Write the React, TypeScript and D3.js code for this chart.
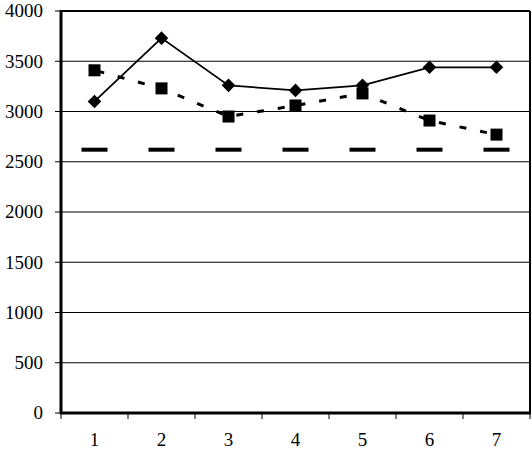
import React from "react";
import * as d3 from "d3";

const categories = ["1", "2", "3", "4", "5", "6", "7"];
const seriesA = [3100, 3730, 3260, 3210, 3260, 3440, 3440];
const seriesB = [3410, 3230, 2950, 3060, 3180, 2910, 2770];
const seriesC = [2620, 2620, 2620, 2620, 2620, 2620, 2620];
const yTicks = [0, 500, 1000, 1500, 2000, 2500, 3000, 3500, 4000];

const W = 532;
const H = 450;
const left = 61;
const right = 530;
const top = 11;
const bottom = 413;
const FONT = "Liberation Serif, Times New Roman, serif";

export default function App() {
  const x = d3.scaleBand<string>().domain(categories).range([left, right]).padding(0);
  const y = d3.scaleLinear().domain([0, 4000]).range([bottom, top]);
  const cx = (c: string) => (x(c) as number) + x.bandwidth() / 2;

  const line = d3
    .line<number>()
    .x((_, i) => cx(categories[i]))
    .y((d) => y(d));

  const diamond = d3.symbol(d3.symbolSquare, 92)();
  const textStyle = { fontFamily: FONT, fontSize: 19 } as React.CSSProperties;

  return (
    <svg
      width={W}
      height={H}
      style={{ position: "absolute", left: 0, top: 0, background: "#fff" }}
    >
      <rect x={0} y={0} width={W} height={H} fill="#fff" />
      {yTicks.map((t) => (
        <line key={"g" + t} x1={left} x2={right} y1={y(t)} y2={y(t)} stroke="#000" strokeWidth={1} />
      ))}
      {yTicks.map((t) => (
        <g key={"yt" + t}>
          <line x1={left - 6} x2={left} y1={y(t)} y2={y(t)} stroke="#000" strokeWidth={1} />
          <text x={43} y={y(t)} dy="0.33em" textAnchor="end" style={textStyle} fill="#000">
            {t}
          </text>
        </g>
      ))}
      {[...categories.map((c) => x(c) as number), right].map((v, i) => (
        <line key={"xt" + i} x1={v} x2={v} y1={bottom} y2={bottom + 6} stroke="#000" strokeWidth={1} />
      ))}
      {categories.map((c) => (
        <text key={"xl" + c} x={cx(c)} y={446} textAnchor="middle" style={textStyle} fill="#000">
          {c}
        </text>
      ))}
      <line x1={left} x2={right} y1={top} y2={top} stroke="#000" strokeWidth={2} />
      <line x1={right} x2={right} y1={top} y2={bottom} stroke="#000" strokeWidth={2} />
      <line x1={left} x2={left} y1={top - 1} y2={bottom + 1} stroke="#000" strokeWidth={3} />
      <line x1={left - 1} x2={right + 1} y1={bottom} y2={bottom} stroke="#000" strokeWidth={3} />

      {seriesC.map((v, i) => (
        <line
          key={"c" + i}
          x1={cx(categories[i]) - 13}
          x2={cx(categories[i]) + 13}
          y1={y(v)}
          y2={y(v)}
          stroke="#000"
          strokeWidth={4}
        />
      ))}

      <path d={line(seriesB) || ""} fill="none" stroke="#000" strokeWidth={3} strokeDasharray="7 14" strokeDashoffset={-3} />
      {seriesB.map((v, i) => (
        <rect key={"b" + i} x={cx(categories[i]) - 6} y={y(v) - 6} width={12} height={12} fill="#000" />
      ))}

      <path d={line(seriesA) || ""} fill="none" stroke="#000" strokeWidth={1.8} />
      {seriesA.map((v, i) => (
        <path
          key={"a" + i}
          d={diamond || ""}
          transform={`translate(${cx(categories[i])},${y(v)}) rotate(45)`}
          fill="#000"
        />
      ))}
    </svg>
  );
}
